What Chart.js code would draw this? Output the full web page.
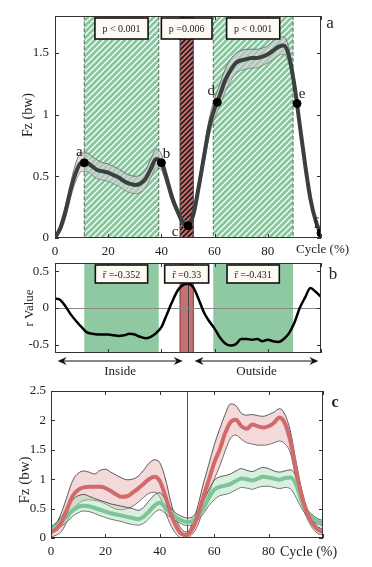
<!DOCTYPE html>
<html>
<head>
<meta charset="utf-8">
<script src="https://cdn.jsdelivr.net/npm/chart.js@4.4.1/dist/chart.umd.min.js"></script>
<style>
  body { margin: 0; background: #fff; width: 372px; height: 567px; position: relative; overflow: hidden; }
  canvas { position: absolute; left: 0; }
</style>
</head>
<body>
<canvas id="ca" width="372" height="262" style="top:0px"></canvas>
<canvas id="cb" width="372" height="126" style="top:254px"></canvas>
<canvas id="cc" width="372" height="187" style="top:380px"></canvas>
<script>
// gait cycle (%)
const cycle = [0,2,4,6,8,10,12,14,16,18,20,22,24,26,28,30,32,34,36,38,40,42,44,46,48,50,
  52,54,56,58,60,62,64,66,68,70,72,74,76,78,80,82,84,86,88,90,92,94,96,98,100];

// panel a: vertical force (bw), mean and band
const fzMean  = [0.00,0.08,0.22,0.40,0.54,0.61,0.61,0.58,0.55,0.54,0.53,0.51,0.49,0.46,0.44,0.43,0.44,0.48,0.56,0.64,0.61,
  0.48,0.33,0.22,0.13,0.10,0.19,0.41,0.66,0.90,1.05,1.16,1.28,1.36,1.42,1.44,1.45,1.46,1.46,1.47,1.49,1.52,1.55,1.56,1.47,
  1.24,0.92,0.60,0.32,0.14,0.03];
const fzUpper = [0.02,0.11,0.27,0.46,0.62,0.69,0.69,0.66,0.63,0.61,0.60,0.58,0.56,0.53,0.51,0.50,0.51,0.55,0.64,0.72,0.68,
  0.53,0.37,0.25,0.16,0.13,0.23,0.46,0.72,0.97,1.13,1.25,1.37,1.45,1.50,1.52,1.53,1.53,1.53,1.54,1.56,1.60,1.63,1.63,1.53,
  1.28,0.95,0.63,0.34,0.15,0.04];
const fzLower = [0.00,0.05,0.17,0.34,0.47,0.54,0.54,0.51,0.48,0.47,0.46,0.44,0.42,0.39,0.37,0.36,0.37,0.41,0.49,0.57,0.55,
  0.43,0.29,0.19,0.10,0.07,0.15,0.36,0.60,0.83,0.97,1.07,1.19,1.27,1.34,1.36,1.37,1.38,1.38,1.40,1.42,1.45,1.48,1.49,1.41,
  1.20,0.89,0.57,0.30,0.12,0.02];
const keyX = [11, 40, 50, 61, 91, 100];
const keyY = [0.61, 0.61, 0.10, 1.10, 1.09, 0.04];
const keyTag = ['a', 'b', 'c', 'd', 'e', 'f'];

// significant regions
const sigStart = [11, 59.5];
const sigEnd = [39, 89.5];
const redStart = [47];
const redEnd = [52];
const pText = ['p < 0.001', 'p =0.006', 'p < 0.001'];

// panel b: correlation
const rValue = [0.13,0.11,0.02,-0.09,-0.18,-0.26,-0.33,-0.35,-0.36,-0.36,-0.36,-0.37,-0.38,-0.37,-0.35,-0.36,-0.39,-0.41,
  -0.39,-0.34,-0.26,-0.09,0.08,0.23,0.31,0.33,0.28,0.12,-0.06,-0.18,-0.28,-0.40,-0.48,-0.51,-0.49,-0.42,-0.42,-0.43,-0.42,
  -0.45,-0.43,-0.45,-0.46,-0.42,-0.34,-0.20,0.00,0.14,0.27,0.22,0.15];
const rText = ['r\u0304 =-0.352', 'r\u0304 =0.33', 'r\u0304 =-0.431'];
const sideFrom = [1, 52.5];
const sideTo = [48, 99];
const sideText = ['Inside', 'Outside'];

// panel c: two groups
const redMean  = [0.10,0.15,0.28,0.50,0.72,0.82,0.86,0.87,0.87,0.87,0.85,0.80,0.74,0.70,0.71,0.77,0.84,0.92,1.00,1.04,0.97,
  0.72,0.42,0.20,0.07,0.05,0.16,0.38,0.70,0.98,1.28,1.50,1.78,1.97,2.01,1.90,1.86,1.93,1.90,1.88,1.90,1.96,2.05,1.95,1.65,
  1.18,0.75,0.45,0.26,0.15,0.10];
const redUpper = [0.18,0.25,0.45,0.72,0.98,1.10,1.14,1.12,1.09,1.15,1.17,1.12,1.07,1.02,0.99,1.00,1.05,1.15,1.27,1.33,1.28,
  1.02,0.62,0.32,0.15,0.10,0.25,0.55,0.92,1.25,1.58,1.85,2.10,2.28,2.25,2.12,2.09,2.10,2.08,2.07,2.10,2.14,2.20,2.10,1.82,
  1.32,0.85,0.52,0.32,0.20,0.15];
const redLower = [0.02,0.05,0.12,0.30,0.48,0.58,0.64,0.65,0.64,0.62,0.58,0.53,0.49,0.48,0.50,0.54,0.61,0.69,0.76,0.78,0.70,
  0.45,0.22,0.07,0.00,0.00,0.07,0.22,0.50,0.75,1.00,1.22,1.48,1.70,1.75,1.68,1.62,1.60,1.58,1.58,1.59,1.62,1.65,1.60,1.45,
  1.02,0.60,0.35,0.18,0.08,0.05];
const greenMean  = [0.15,0.20,0.28,0.38,0.47,0.53,0.55,0.54,0.51,0.48,0.45,0.42,0.40,0.38,0.36,0.34,0.32,0.36,0.45,0.55,0.60,
  0.52,0.42,0.35,0.30,0.27,0.29,0.38,0.50,0.68,0.82,0.87,0.89,0.92,0.97,1.01,1.00,0.98,1.01,1.04,1.03,1.01,0.99,1.02,1.03,
  0.92,0.65,0.45,0.35,0.28,0.25];
const greenUpper = [0.20,0.26,0.37,0.52,0.65,0.72,0.74,0.71,0.67,0.64,0.61,0.58,0.56,0.54,0.52,0.50,0.47,0.52,0.63,0.73,0.77,
  0.66,0.52,0.42,0.37,0.34,0.36,0.47,0.62,0.82,0.98,1.04,1.06,1.09,1.14,1.18,1.15,1.13,1.17,1.20,1.18,1.14,1.12,1.14,1.16,
  1.05,0.72,0.50,0.40,0.33,0.30];
const greenLower = [0.10,0.15,0.21,0.28,0.37,0.43,0.46,0.45,0.42,0.38,0.35,0.32,0.30,0.28,0.25,0.23,0.22,0.25,0.33,0.43,0.48,
  0.42,0.35,0.29,0.24,0.21,0.23,0.31,0.41,0.55,0.65,0.72,0.74,0.77,0.82,0.86,0.85,0.83,0.86,0.88,0.88,0.86,0.84,0.86,0.84,
  0.70,0.52,0.38,0.30,0.24,0.20];

// ticks
const xTicks = [0, 20, 40, 60, 80, 100];
const yTicksA = [0, 0.5, 1, 1.5];
const yTicksB = [-0.5, 0, 0.5];
const yTicksC = [0, 0.5, 1, 1.5, 2, 2.5];

const SERIF = '"Liberation Serif", "DejaVu Serif", serif';
const GREEN = '#88c69e';
const RED = '#c86e6e';

const pts = (arr) => cycle.map((c, i) => ({ x: c, y: arr[i] }));

function hatch(ctx, bg, fg, size, lw) {
  const c = document.createElement('canvas');
  c.width = size; c.height = size;
  const g = c.getContext('2d');
  g.fillStyle = bg;
  g.fillRect(0, 0, size, size);
  g.strokeStyle = fg;
  g.lineWidth = lw;
  g.beginPath();
  g.moveTo(-1, size + 1); g.lineTo(size + 1, -1);
  g.moveTo(-1, 1); g.lineTo(1, -1);
  g.moveTo(size - 1, size + 1); g.lineTo(size + 1, size - 1);
  g.stroke();
  return ctx.createPattern(c, 'repeat');
}

function drawRegions(chart, starts, ends, fill, edge, dash) {
  const { ctx, chartArea: a, scales: { x } } = chart;
  ctx.save();
  starts.forEach((s, i) => {
    const x0 = x.getPixelForValue(s), x1 = x.getPixelForValue(ends[i]);
    ctx.fillStyle = fill;
    ctx.fillRect(x0, a.top, x1 - x0, a.bottom - a.top);
    if (edge) {
      ctx.strokeStyle = edge;
      ctx.lineWidth = 1;
      ctx.setLineDash(dash || []);
      ctx.beginPath();
      ctx.moveTo(x0, a.top); ctx.lineTo(x0, a.bottom);
      ctx.moveTo(x1, a.top); ctx.lineTo(x1, a.bottom);
      ctx.stroke();
    }
  });
  ctx.restore();
}

function drawFrame(chart, yTicks) {
  const { ctx, chartArea: a, scales: { x, y } } = chart;
  ctx.save();
  ctx.strokeStyle = '#333';
  ctx.lineWidth = 1;
  ctx.strokeRect(a.left + 0.5, a.top + 0.5, a.right - a.left - 1, a.bottom - a.top - 1);
  ctx.beginPath();
  xTicks.forEach(v => {
    const px = Math.round(x.getPixelForValue(v)) + 0.5;
    ctx.moveTo(px, a.bottom); ctx.lineTo(px, a.bottom - 4);
    ctx.moveTo(px, a.top); ctx.lineTo(px, a.top + 4);
  });
  yTicks.forEach(v => {
    const py = Math.round(y.getPixelForValue(v)) + 0.5;
    ctx.moveTo(a.left, py); ctx.lineTo(a.left + 4, py);
    ctx.moveTo(a.right, py); ctx.lineTo(a.right - 4, py);
  });
  ctx.stroke();
  ctx.restore();
}

function drawBoxes(chart, centers, texts, top, h, size) {
  const { ctx, scales: { x } } = chart;
  ctx.save();
  ctx.font = size + 'px ' + SERIF;
  ctx.textAlign = 'center';
  ctx.textBaseline = 'middle';
  texts.forEach((t, i) => {
    const cx = x.getPixelForValue(centers[i]);
    const w = ctx.measureText(t).width + 15;
    ctx.fillStyle = '#fcfaf2';
    ctx.fillRect(cx - w / 2, top, w, h);
    ctx.strokeStyle = '#111';
    ctx.lineWidth = 1.6;
    ctx.strokeRect(cx - w / 2, top, w, h);
    ctx.fillStyle = '#222';
    ctx.fillText(t, cx, top + h / 2 + 1);
  });
  ctx.restore();
}

function text(ctx, t, x, y, size, opts) {
  opts = opts || {};
  ctx.save();
  ctx.font = (opts.bold ? 'bold ' : '') + size + 'px ' + SERIF;
  ctx.fillStyle = '#222';
  ctx.textAlign = opts.align || 'center';
  ctx.textBaseline = 'middle';
  ctx.translate(x, y);
  if (opts.rotate) ctx.rotate(opts.rotate);
  ctx.fillText(t, 0, 0);
  ctx.restore();
}

const regionCenters = [
  (sigStart[0] + sigEnd[0]) / 2,
  (redStart[0] + redEnd[0]) / 2,
  (sigStart[1] + sigEnd[1]) / 2
];

function xScale(showLabels, fitHeight) {
  return {
    type: 'linear', min: 0, max: 100,
    afterBuildTicks: s => { s.ticks = xTicks.map(v => ({ value: v })); },
    afterFit: s => { s.height = fitHeight; s.paddingLeft = 0; s.paddingRight = 0; },
    ticks: {
      display: showLabels, padding: 6, maxRotation: 0, autoSkip: false,
      color: '#222', font: { family: SERIF, size: 13 },
      callback: v => (v === 100 ? '' : String(v))
    },
    grid: { display: false, drawTicks: false },
    border: { display: false }
  };
}

function yScale(min, max, ticks, fitWidth, pad) {
  return {
    min: min, max: max,
    afterBuildTicks: s => { s.ticks = ticks.map(v => ({ value: v })); },
    afterFit: s => { s.width = fitWidth; s.paddingTop = 0; s.paddingBottom = 0; },
    ticks: {
      padding: pad, color: '#222', font: { family: SERIF, size: 13 },
      callback: v => String(v)
    },
    grid: { display: false, drawTicks: false },
    border: { display: false }
  };
}

const common = {
  responsive: false,
  animation: false,
  events: [],
  plugins: { legend: { display: false }, tooltip: { enabled: false } },
  elements: { point: { radius: 0 }, line: { cubicInterpolationMode: 'monotone' } }
};

// ---------- panel a ----------
new Chart(document.getElementById('ca'), {
  type: 'line',
  data: {
    datasets: [
      { data: keyX.map((v, i) => ({ x: v, y: keyY[i] })), showLine: false,
        pointRadius: 4, pointBackgroundColor: '#000', pointBorderColor: '#000' },
      { data: pts(fzMean), borderColor: '#3a403d', borderWidth: 4, fill: false },
      { data: pts(fzUpper), borderColor: '#5c625f', borderWidth: 0.8,
        backgroundColor: 'rgba(196,200,197,0.62)', fill: '+1' },
      { data: pts(fzLower), borderColor: '#5c625f', borderWidth: 0.8, fill: false }
    ]
  },
  options: {
    ...common,
    layout: { padding: { top: 16, right: 51, left: 0, bottom: 0 } },
    scales: { x: xScale(true, 24), y: yScale(0, 1.8, yTicksA, 55, 6) }
  },
  plugins: [{
    id: 'decoA',
    beforeDatasetsDraw(chart) {
      const ctx = chart.ctx;
      drawRegions(chart, sigStart, sigEnd, hatch(ctx, GREEN, '#ffffff', 6, 1.3), '#5f6f64', [4, 2]);
      drawRegions(chart, redStart, redEnd, hatch(ctx, RED, '#111111', 5, 1.5), '#444');
    },
    afterDatasetsDraw(chart) {
      const { ctx, scales: { x, y } } = chart;
      drawFrame(chart, yTicksA);
      drawBoxes(chart, regionCenters, pText, 18, 21, 10);
      const off = [[-5, -11], [5, -9], [-13, 6], [-6, -11], [5, -10], [-5, -9]];
      keyTag.forEach((t, i) => {
        text(ctx, t, x.getPixelForValue(keyX[i]) + off[i][0], y.getPixelForValue(keyY[i]) + off[i][1], 15);
      });
      text(ctx, 'Fz (bw)', 28, 115, 14, { rotate: -Math.PI / 2 });
      text(ctx, 'Cycle (%)', 296, 250, 13, { align: 'left' });
      text(ctx, 'a', 330, 24, 17);
    }
  }]
});

// ---------- panel b ----------
new Chart(document.getElementById('cb'), {
  type: 'line',
  data: {
    datasets: [
      { data: pts(rValue), borderColor: '#000', borderWidth: 2.5, fill: false }
    ]
  },
  options: {
    ...common,
    layout: { padding: { top: 9, right: 51, left: 0, bottom: 0 } },
    scales: { x: xScale(false, 27), y: yScale(-0.61, 0.61, yTicksB, 55, 6) }
  },
  plugins: [{
    id: 'decoB',
    beforeDatasetsDraw(chart) {
      const { ctx, chartArea: a, scales: { x, y } } = chart;
      drawRegions(chart, sigStart, sigEnd, '#8fc9a2');
      drawRegions(chart, redStart, redEnd, '#c77071', '#7a3a3a');
      ctx.save();
      ctx.strokeStyle = '#444';
      ctx.lineWidth = 1;
      ctx.beginPath();
      const mx = Math.round(x.getPixelForValue(50)) + 0.5;
      ctx.moveTo(mx, a.top); ctx.lineTo(mx, a.bottom);
      ctx.stroke();
      ctx.strokeStyle = '#8a8a8a';
      ctx.beginPath();
      const zy = Math.round(y.getPixelForValue(0)) + 0.5;
      ctx.moveTo(a.left, zy); ctx.lineTo(a.right, zy);
      ctx.stroke();
      ctx.restore();
    },
    afterDatasetsDraw(chart) {
      const { ctx, chartArea: a, scales: { x } } = chart;
      drawFrame(chart, yTicksB);
      drawBoxes(chart, regionCenters, rText, 11, 18, 10);
      // inside / outside arrows
      const ay = a.bottom + 8;
      ctx.save();
      ctx.strokeStyle = '#111';
      ctx.fillStyle = '#111';
      ctx.lineWidth = 1;
      sideFrom.forEach((s, i) => {
        const x0 = x.getPixelForValue(s), x1 = x.getPixelForValue(sideTo[i]);
        ctx.beginPath();
        ctx.moveTo(x0 + 4, ay); ctx.lineTo(x1 - 4, ay);
        ctx.stroke();
        [[x0, 1], [x1, -1]].forEach(([px, d]) => {
          ctx.beginPath();
          ctx.moveTo(px, ay);
          ctx.lineTo(px + d * 9, ay - 4);
          ctx.lineTo(px + d * 6, ay);
          ctx.lineTo(px + d * 9, ay + 4);
          ctx.closePath();
          ctx.fill();
        });
        text(ctx, sideText[i], (x0 + x1) / 2, ay + 11, 13);
      });
      ctx.restore();
      text(ctx, 'r Value', 30, (a.top + a.bottom) / 2, 13, { rotate: -Math.PI / 2 });
      text(ctx, 'b', 333, 21, 17);
    }
  }]
});

// ---------- panel c ----------
new Chart(document.getElementById('cc'), {
  type: 'line',
  data: {
    datasets: [
      { data: pts(redMean), borderColor: '#d26a6b', borderWidth: 4, fill: false },
      { data: pts(greenMean), borderColor: '#7dc596', borderWidth: 4, fill: false },
      { data: pts(greenUpper), borderColor: '#333', borderWidth: 0.8,
        backgroundColor: 'rgba(170,220,185,0.45)', fill: '+1' },
      { data: pts(greenLower), borderColor: '#333', borderWidth: 0.8, fill: false },
      { data: pts(redUpper), borderColor: '#333', borderWidth: 0.8,
        backgroundColor: 'rgba(225,160,160,0.4)', fill: '+1' },
      { data: pts(redLower), borderColor: '#333', borderWidth: 0.8, fill: false }
    ]
  },
  options: {
    ...common,
    layout: { padding: { top: 11, right: 49, left: 0, bottom: 0 } },
    scales: { x: xScale(true, 29), y: yScale(0, 2.5, yTicksC, 51, 5) }
  },
  plugins: [{
    id: 'decoC',
    beforeDatasetsDraw(chart) {
      const { ctx, chartArea: a, scales: { x } } = chart;
      ctx.save();
      ctx.strokeStyle = '#555';
      ctx.lineWidth = 1;
      ctx.beginPath();
      const mx = Math.round(x.getPixelForValue(50)) + 0.5;
      ctx.moveTo(mx, a.top); ctx.lineTo(mx, a.bottom);
      ctx.stroke();
      ctx.restore();
    },
    afterDatasetsDraw(chart) {
      const { ctx } = chart;
      drawFrame(chart, yTicksC);
      text(ctx, 'Fz (bw)', 25, 100, 15, { rotate: -Math.PI / 2 });
      text(ctx, 'Cycle (%)', 280, 172, 14, { align: 'left' });
      text(ctx, 'c', 335, 23, 16, { bold: true });
    }
  }]
});
</script>
</body>
</html>
